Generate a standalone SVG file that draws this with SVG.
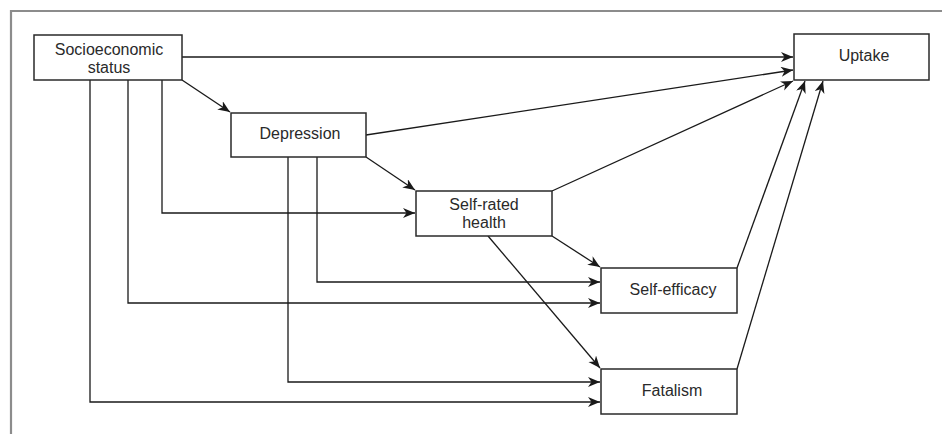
<svg xmlns="http://www.w3.org/2000/svg" width="942" height="434" viewBox="0 0 942 434">
<defs>
<marker id="arr" markerUnits="userSpaceOnUse" markerWidth="14" markerHeight="12" refX="12" refY="5" orient="auto" viewBox="0 0 14 12">
<path d="M0,0 L12,5 L0,10 L3.5,5 z" fill="#1a1a1a"/>
</marker>
<style>
.box{fill:#fff;stroke:#2a2a2a;stroke-width:1.5}
.lbl{font-family:"Liberation Sans",Arial,sans-serif;font-size:16px;fill:#2a2a2a;text-anchor:middle}
.c{fill:none;stroke:#1a1a1a;stroke-width:1.3}
.a{marker-end:url(#arr)}
</style>
</defs>
<rect width="942" height="434" fill="#fff"/>
<path d="M11,434 L11,11 L942,11" fill="none" stroke="#8c8c8c" stroke-width="2.2"/>
<g id="connectors">
<path class="c a" d="M182,57 L793,57"/>
<path class="c a" d="M182,80 L230,112"/>
<path class="c a" d="M162,80 L162,213 L415,213"/>
<path class="c a" d="M128,80 L128,303 L600,303"/>
<path class="c a" d="M90,80 L90,402 L600,402"/>
<path class="c a" d="M366,135 L793,70"/>
<path class="c a" d="M366,157 L415,190"/>
<path class="c a" d="M317,157 L317,282 L600,282"/>
<path class="c a" d="M288,157 L288,382 L600,382"/>
<path class="c a" d="M552,191 L793,81"/>
<path class="c a" d="M552,236 L600,267"/>
<path class="c a" d="M488,236 L600,368"/>
<path class="c a" d="M737,268 L805,81"/>
<path class="c a" d="M737,369 L823,81"/>
</g>
<g id="ses">
<rect class="box" x="34" y="35" width="148" height="45"/>
<text class="lbl" x="109" y="55">Socioeconomic</text>
<text class="lbl" x="109" y="73">status</text>
</g>
<g id="depression">
<rect class="box" x="231" y="113" width="135" height="44"/>
<text class="lbl" x="300" y="139">Depression</text>
</g>
<g id="selfrated">
<rect class="box" x="416" y="191" width="136" height="45"/>
<text class="lbl" x="484" y="210">Self-rated</text>
<text class="lbl" x="484" y="228">health</text>
</g>
<g id="selfefficacy">
<rect class="box" x="601" y="268" width="136" height="45"/>
<text class="lbl" x="673" y="295">Self-efficacy</text>
</g>
<g id="fatalism">
<rect class="box" x="601" y="369" width="136" height="45"/>
<text class="lbl" x="672" y="396">Fatalism</text>
</g>
<g id="uptake">
<rect class="box" x="794" y="34" width="135" height="46"/>
<text class="lbl" x="864" y="61">Uptake</text>
</g>
</svg>
